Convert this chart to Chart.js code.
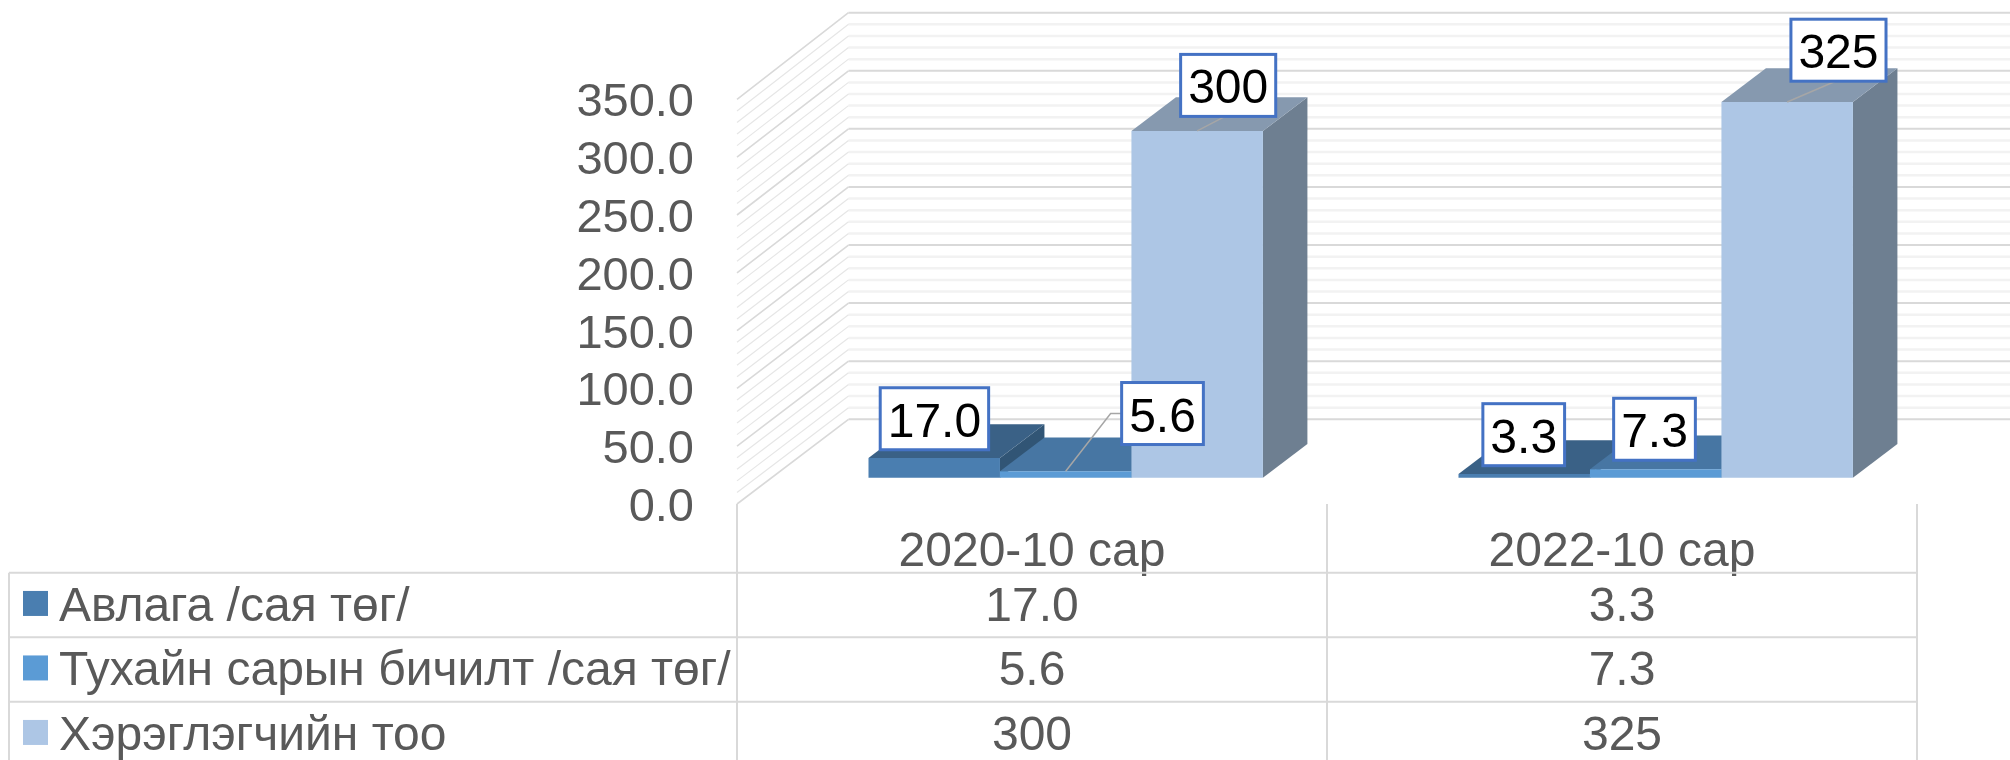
<!DOCTYPE html>
<html>
<head>
<meta charset="utf-8">
<style>html,body{margin:0;padding:0;background:#fff}canvas{display:block}</style>
<script src="https://cdn.jsdelivr.net/npm/chart.js@4"></script>
</head>
<body>
<canvas id="c" width="2010" height="760"></canvas>
<script>
const categories = ['2020-10 сар', '2022-10 сар'];
const seriesNames = ['Авлага /сая төг/', 'Тухайн сарын бичилт /сая төг/', 'Хэрэглэгчийн тоо'];
const receivables = [17.0, 3.3];
const monthlyPosting = [5.6, 7.3];
const userCount = [300, 325];
const tableText = [['17.0', '3.3'], ['5.6', '7.3'], ['300', '325']];

const frontColors = ['#4a7eb0', '#5b9bd5', '#adc6e5'];
const topColors = ['#3a6186', '#4776a3', '#8699af'];
const sideColors = ['#315575', '#3f6a94', '#6e7f91'];
const textGrey = '#595959';
const FONT = '"Liberation Sans", Arial, sans-serif';

// oblique projection
const wall = {dx: 111.5, dy: -84.7, yScale: 1.005};
const barFront = {dx: 33.7, dy: -26.3};
const barDepth = {dx: 44.5, dy: -33.7};

// label box offsets from the bar's top-centre
const labelOffsets = [
  [[0.2, -39.3], [-0.5, -39.2]],
  [[96.8, -57.7], [-1.2, -40]],
  [[31, -45.5], [51.3, -51.8]]
];
const leaderStyle = [[null, null], ['elbow', null], ['bottom', 'bottom']];

const table = {left: 9, top: 572.7, rowH: 64.5, swatchX: 23, swatchW: 25, swatchH: 25, textX: 59, baseline: 16};

const threeD = {
  id: 'threeD',
  beforeDatasetsDraw(chart) {
    const ctx = chart.ctx, y = chart.scales.y, a = chart.chartArea;
    // walls and gridlines
    y.ticks.forEach(t => {
      const py = y.getPixelForValue(t.value);
      const wy = a.bottom + wall.dy + (py - a.bottom) * wall.yScale;
      const major = t.value % 50 === 0;
      ctx.strokeStyle = major ? '#d9d9d9' : '#f2f2f2';
      ctx.lineWidth = major ? 2 : 2.5;
      ctx.beginPath();
      ctx.moveTo(a.left + wall.dx, wy);
      ctx.lineTo(chart.width, wy);
      ctx.stroke();
      ctx.strokeStyle = major ? '#d9d9d9' : '#e6e6e6';
      ctx.lineWidth = major ? 1.6 : 1.2;
      ctx.beginPath();
      ctx.moveTo(a.left, py);
      ctx.lineTo(a.left + wall.dx, wy);
      ctx.stroke();
    });
    // bar depth faces, left to right
    chart.data.datasets.forEach((ds, di) => {
      chart.getDatasetMeta(di).data.forEach(bar => {
        const l = bar.x - bar.width / 2 + barFront.dx;
        const r = bar.x + bar.width / 2 + barFront.dx;
        const t = bar.y + barFront.dy;
        const b = bar.base + barFront.dy;
        ctx.fillStyle = sideColors[di];
        ctx.beginPath();
        ctx.moveTo(r, t); ctx.lineTo(r + barDepth.dx, t + barDepth.dy);
        ctx.lineTo(r + barDepth.dx, b + barDepth.dy); ctx.lineTo(r, b);
        ctx.closePath(); ctx.fill();
        ctx.fillStyle = topColors[di];
        ctx.beginPath();
        ctx.moveTo(l, t); ctx.lineTo(l + barDepth.dx, t + barDepth.dy);
        ctx.lineTo(r + barDepth.dx, t + barDepth.dy); ctx.lineTo(r, t);
        ctx.closePath(); ctx.fill();
      });
    });
    ctx.save();
    ctx.translate(barFront.dx, barFront.dy);
  },
  afterDatasetsDraw(chart) {
    const ctx = chart.ctx;
    ctx.restore();
    ctx.font = '48px ' + FONT;
    const boxes = [];
    chart.data.datasets.forEach((ds, di) => {
      chart.getDatasetMeta(di).data.forEach((bar, i) => {
        const ax = bar.x + barFront.dx, ay = bar.y + barFront.dy;
        const cx = ax + labelOffsets[di][i][0], cy = ay + labelOffsets[di][i][1];
        const text = tableText[di][i];
        const w = ctx.measureText(text).width + 15, h = 62;
        boxes.push({text, cx, cy, w, h});
        const style = leaderStyle[di][i];
        if (style) {
          ctx.strokeStyle = '#a6a6a6'; ctx.lineWidth = 1.5;
          ctx.beginPath();
          ctx.moveTo(ax, ay);
          if (style === 'elbow') {
            ctx.lineTo(cx - w / 2 - 11, cy);
            ctx.lineTo(cx - w / 2, cy);
          } else {
            ctx.lineTo(cx - 3, cy + h / 2);
          }
          ctx.stroke();
        }
      });
    });
    boxes.forEach(b => {
      ctx.fillStyle = '#fff';
      ctx.fillRect(b.cx - b.w / 2, b.cy - b.h / 2, b.w, b.h);
      ctx.strokeStyle = '#4472c4'; ctx.lineWidth = 3;
      ctx.strokeRect(b.cx - b.w / 2, b.cy - b.h / 2, b.w, b.h);
      ctx.fillStyle = '#000';
      ctx.textAlign = 'center'; ctx.textBaseline = 'alphabetic';
      ctx.fillText(b.text, b.cx, b.cy + 18);
    });
  },
  afterDraw(chart) {
    const ctx = chart.ctx, x = chart.scales.x, a = chart.chartArea;
    const n = categories.length;
    const catW = (a.right - a.left) / n;
    ctx.strokeStyle = '#d9d9d9'; ctx.lineWidth = 2;
    // verticals
    for (let i = 0; i <= n; i++) {
      const px = a.left + i * catW;
      ctx.beginPath(); ctx.moveTo(px, a.bottom); ctx.lineTo(px, chart.height); ctx.stroke();
    }
    ctx.beginPath(); ctx.moveTo(table.left, table.top); ctx.lineTo(table.left, chart.height); ctx.stroke();
    // rows
    for (let r = 0; r < seriesNames.length; r++) {
      const py = table.top + r * table.rowH;
      ctx.beginPath(); ctx.moveTo(table.left, py); ctx.lineTo(a.right, py); ctx.stroke();
    }
    ctx.font = '48px ' + FONT;
    ctx.textBaseline = 'alphabetic';
    seriesNames.forEach((name, r) => {
      const cy = table.top + (r + 0.5) * table.rowH;
      ctx.fillStyle = frontColors[r];
      ctx.fillRect(table.swatchX, cy - table.swatchH / 2 - 1.5, table.swatchW, table.swatchH);
      ctx.fillStyle = textGrey;
      ctx.textAlign = 'left';
      ctx.fillText(name, table.textX, cy + table.baseline);
      ctx.textAlign = 'center';
      tableText[r].forEach((v, i) => ctx.fillText(v, x.getPixelForValue(i), cy + table.baseline));
    });
  }
};

new Chart(document.getElementById('c'), {
  type: 'bar',
  data: {
    labels: categories,
    datasets: [
      {label: seriesNames[0], data: receivables, backgroundColor: frontColors[0]},
      {label: seriesNames[1], data: monthlyPosting, backgroundColor: frontColors[1]},
      {label: seriesNames[2], data: userCount, backgroundColor: frontColors[2]}
    ]
  },
  plugins: [threeD],
  options: {
    responsive: false,
    animation: false,
    clip: false,
    layout: {padding: {top: 99.4, right: 93, left: 0, bottom: 0}},
    plugins: {legend: {display: false}, title: {display: false}, tooltip: {enabled: false}},
    datasets: {bar: {categoryPercentage: 0.6685, barPercentage: 1, borderWidth: 0}},
    scales: {
      x: {
        grid: {display: false, drawTicks: false},
        border: {display: false},
        afterFit(s) { s.height = 256; },
        ticks: {color: textGrey, font: {family: FONT, size: 48}, padding: 20, maxRotation: 0}
      },
      y: {
        min: 0, max: 350,
        grid: {display: false, drawTicks: false},
        border: {display: false},
        afterFit(s) { s.width = 737; },
        ticks: {
          stepSize: 10, autoSkip: false, padding: 43, labelOffset: 4,
          color: textGrey, font: {family: FONT, size: 47},
          callback: v => (v % 50 === 0 ? v.toFixed(1) : '')
        }
      }
    }
  }
});
</script>
</body>
</html>
